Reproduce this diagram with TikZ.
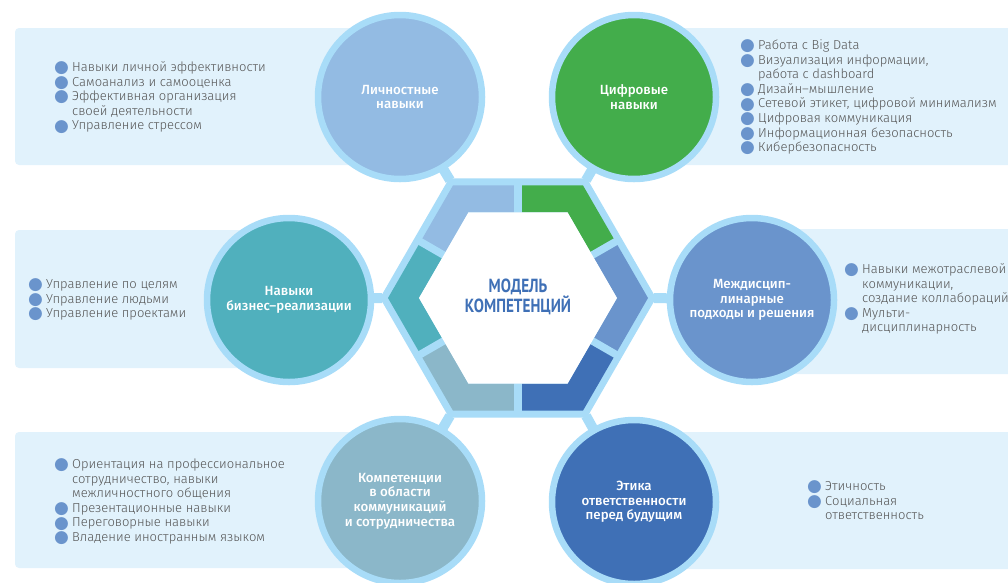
\documentclass[tikz,border=0pt]{standalone}
\usepackage{fontspec}
\usepackage{xcolor}
\usepackage{tikz}
\usetikzlibrary{calc,backgrounds}

\setmainfont{Fira Sans Light}
\newfontfamily\labelfont{Fira Sans Medium}
\newfontfamily\titlefont[FakeStretch=0.8]{PT Sans}
\newfontfamily\symfont{DejaVu Sans}

\definecolor{panel}{HTML}{E1F2FC}
\definecolor{ring}{HTML}{A8DCF8}
\definecolor{pers}{HTML}{93BBE3}
\definecolor{digi}{HTML}{43AD4B}
\definecolor{biz}{HTML}{50B0BD}
\definecolor{inter}{HTML}{6A94CC}
\definecolor{comm}{HTML}{8BB7C9}
\definecolor{ethic}{HTML}{3F70B6}
\definecolor{bullet}{HTML}{6A94CC}
\definecolor{listtext}{HTML}{555555}

\newcommand{\itm}{\strut\makebox[18pt][l]{\textcolor{bullet}{\raisebox{-1.2pt}[0pt][0pt]{\symfont\fontsize{17}{17}\selectfont ●}}}}
\newcommand{\cnt}{\strut\hspace*{18pt}}

\begin{document}
\begin{tikzpicture}[x=1pt,y=-1pt]
  % Define styles
  \tikzstyle{circ} = [circle, draw=ring, line width=6.5pt, minimum size=164pt, inner sep=0pt,
                      text=white, align=center, font=\labelfont\fontsize{13.3}{14.6}\selectfont]
  \tikzstyle{items} = [anchor=north west, inner sep=0pt, align=left, text=listtext,
                       font=\fontsize{13}{14.6}\selectfont]
  \tikzstyle{link} = [ring, line width=10pt]
  \tikzstyle{gap} = [ring, line width=7.5pt]
  \tikzstyle{box} = [panel, rounded corners=4pt]

  \useasboundingbox (0,0) rectangle (1008,582);

  % Circles
  \node[circ, fill=pers] (pers) at (400,97) {Личностные\\навыки};
  \node[circ, fill=digi] (digi) at (634,97) {Цифровые\\навыки};
  \node[circ, fill=biz] (biz) at (289,300) {Навыки\\бизнес–реализации};
  \node[circ, fill=inter] (inter) at (752,300) {Междисцип-\\линарные\\подходы и решения};
  \node[circ, fill=comm] (comm) at (400,501) {Компетенции\\в области\\коммуникаций\\и сотрудничества};
  \node[circ, fill=ethic] (ethic) at (634,502) {Этика\\ответственности\\перед будущим};

  % Centre
  \coordinate (c) at (518,298);
  \foreach \a in {0,60,...,300}
    \coordinate (v\a) at ($(c)+(\a:136)$);
  \node[text=ethic, align=center, font=\titlefont\bfseries\fontsize{19}{20.5}\selectfont]
    (title) at (518,297) {МОДЕЛЬ\\КОМПЕТЕНЦИЙ};

  % Lists
  \node[items] (persl) at (54,61) {\itm Навыки личной эффективности\\
    \itm Самоанализ и самооценка\\
    \itm Эффективная организация\\
    \cnt своей деятельности\\
    \itm Управление стрессом};
  \node[items] (digil) at (740,39) {\itm Работа с Big Data\\
    \itm Визуализация информации,\\
    \cnt работа с dashboard\\
    \itm Дизайн–мышление\\
    \itm Сетевой этикет, цифровой минимализм\\
    \itm Цифровая коммуникация\\
    \itm Информационная безопасность\\
    \itm Кибербезопасность};
  \node[items] (bizl) at (28,278) {\itm Управление по целям\\
    \itm Управление людьми\\
    \itm Управление проектами};
  \node[items] (interl) at (844,263) {\itm Навыки межотраслевой\\
    \cnt коммуникации,\\
    \cnt создание коллабораций\\
    \itm Мульти-\\
    \cnt дисциплинарность};
  \node[items] (comml) at (54,458) {\itm Ориентация на профессиональное\\
    \cnt сотрудничество, навыки\\
    \cnt межличностного общения\\
    \itm Презентационные навыки\\
    \itm Переговорные навыки\\
    \itm Владение иностранным языком};
  \node[items] (ethicl) at (807,480) {\itm Этичность\\
    \itm Социальная\\
    \cnt ответственность};

  \begin{pgfonlayer}{background}
    % Panels
    \fill[box] (15,28) rectangle (400,165);
    \fill[box] (634,28) rectangle (1014,165);
    \fill[box] (15,230) rectangle (289,368);
    \fill[box] (752,229) rectangle (1014,374);
    \fill[box] (15,432) rectangle (400,568);
    \fill[box] (634,432) rectangle (1014,569);

    % Links
    \draw[link] (pers.center) -- (v240);
    \draw[link] (digi.center) -- (v300);
    \draw[link] (biz.center) -- (v180);
    \draw[link] (inter.center) -- (v0);
    \draw[link] (comm.center) -- (v120);
    \draw[link] (ethic.center) -- (v60);

    % Hexagon
    \fill[ring] ($(c)+(0:138)$) \foreach \a in {60,120,...,300} { -- ($(c)+(\a:138)$) } -- cycle;
    \foreach \a/\col in {0/inter,60/ethic,120/comm,180/biz,240/pers,300/digi}
      \fill[\col] ($(c)+(\a-30:112.6)$) -- ($(c)+(\a:130)$) -- ($(c)+(\a+30:112.6)$)
        -- ($(c)+(\a+30:85.7)$) -- ($(c)+(\a:99)$) -- ($(c)+(\a-30:85.7)$) -- cycle;
    \foreach \a in {30,90,...,330}
      \draw[gap] ($(c)+(\a:84)$) -- ($(c)+(\a:115)$);
    \fill[white] ($(c)+(0:99)$) \foreach \a in {60,120,...,300} { -- ($(c)+(\a:99)$) } -- cycle;
  \end{pgfonlayer}
\end{tikzpicture}
\end{document}
